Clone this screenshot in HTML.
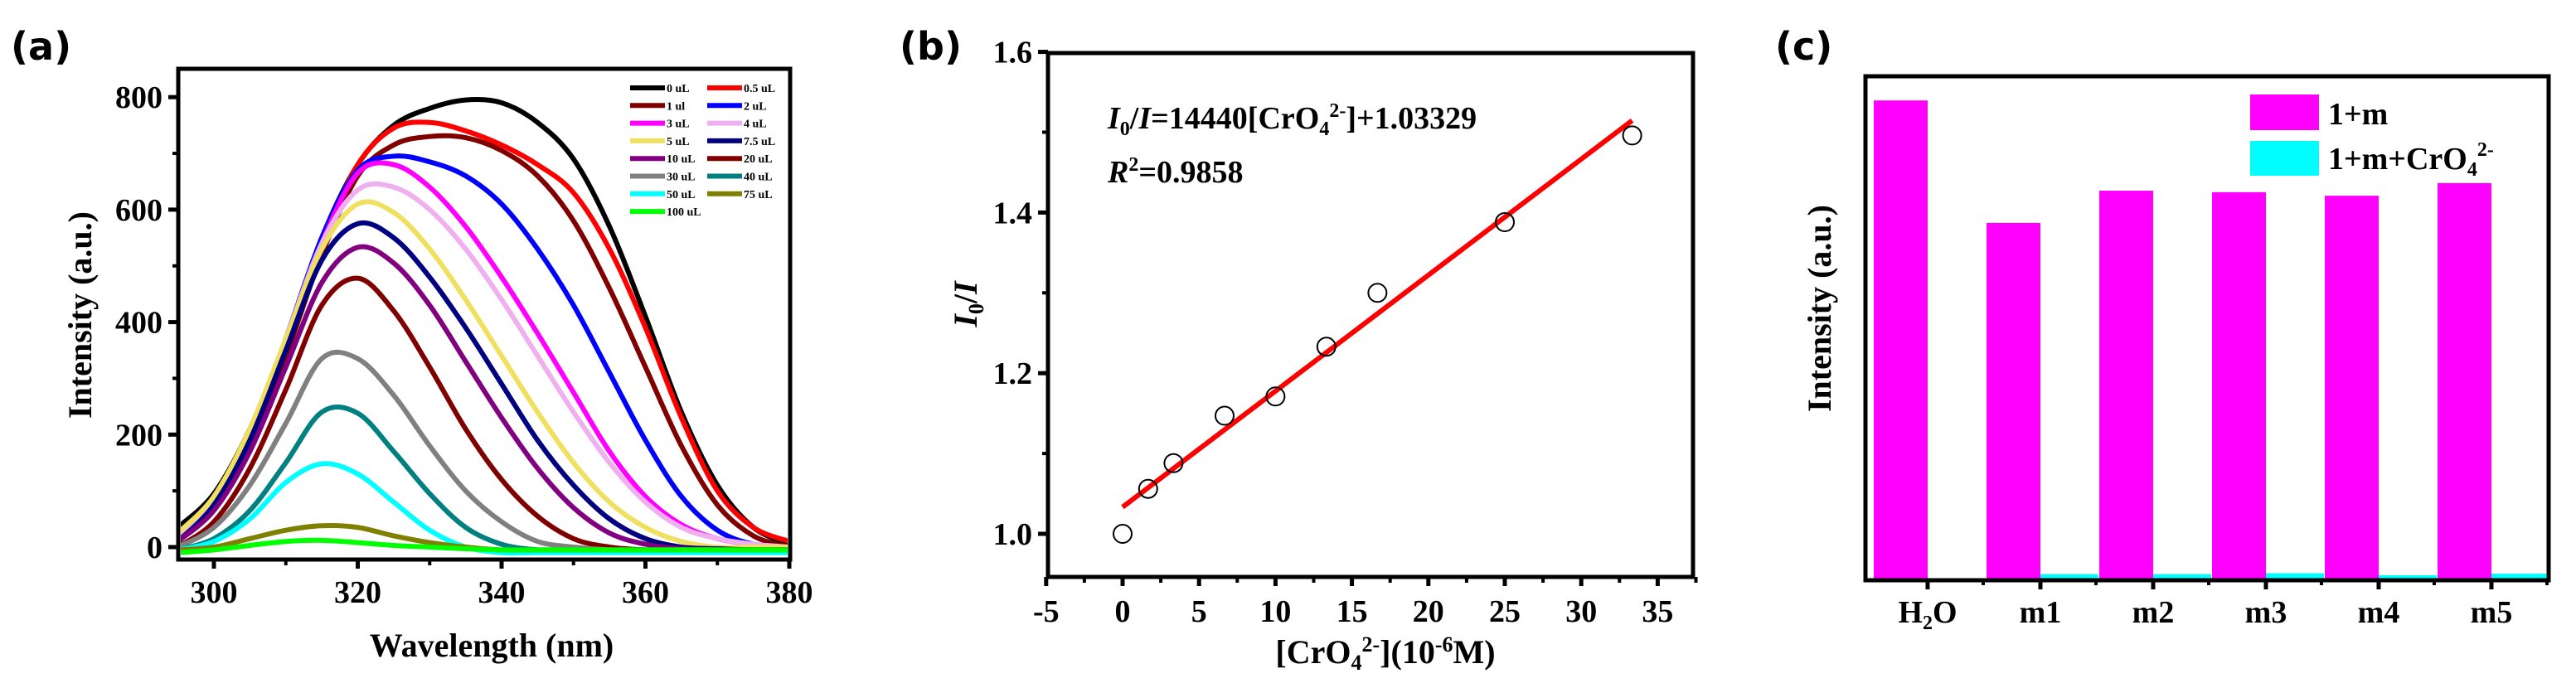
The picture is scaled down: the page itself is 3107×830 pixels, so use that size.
<!DOCTYPE html>
<html><head><meta charset="utf-8">
<style>
html,body{margin:0;padding:0;background:#fff;}
svg{display:block;}
text{font-family:"Liberation Serif",serif;font-weight:bold;fill:#000;}
.lbl{font-family:"DejaVu Sans","Liberation Sans",sans-serif;font-weight:bold;}
</style></head>
<body>
<svg id="fig" width="3107" height="830" viewBox="0 0 3107 830" xmlns="http://www.w3.org/2000/svg">
<defs><clipPath id="clipA"><rect x="218" y="86" width="732" height="586"/></clipPath></defs>
<g id="pa"></g>
<g id="pb"></g>
<g id="pc"></g>
</svg>
<script>
// ---------- Panel A data ----------
const waveA = [295,300,305,310,315,320,325,330,335,340,345,350,355,360,365,370,375,380];
const namesA = ["0 uL","0.5 uL","1 ul","2 uL","3 uL","4 uL","5 uL","7.5 uL","10 uL","20 uL","30 uL","40 uL","50 uL","75 uL","100 uL"];
const colorsA = ["#000000","#ff0000","#800000","#0000ff","#ff00ff","#f0b0f0","#f0e060","#000080","#800080","#800000","#808080","#008080","#00ffff","#808000","#00ff00"];
const s0  = [35,95,210,370,550,680,750,780,795,790,755,690,570,410,240,110,35,5];
const s1  = [20,85,200,360,540,680,745,755,740,715,680,630,530,390,230,100,35,10];
const s2  = [10,70,180,340,520,660,715,730,728,705,660,580,460,320,180,75,20,0];
const s3  = [15,80,200,370,550,670,695,685,660,610,530,430,310,190,90,30,5,0];
const s4  = [10,70,190,360,540,665,680,640,570,480,380,275,170,90,40,15,5,0];
const s5  = [15,85,205,370,540,635,640,600,530,440,340,240,150,80,35,15,5,0];
const s6  = [25,90,210,370,530,610,595,530,440,340,240,150,80,35,10,0,0,0];
const s7  = [10,75,190,350,510,575,550,480,390,290,190,110,50,15,0,-3,-5,-5];
const s8  = [10,65,170,320,470,533,505,430,330,230,140,70,25,5,-3,-5,-5,-5];
const s9  = [0,45,140,280,430,478,420,320,210,120,55,15,0,-5,-5,-5,-5,-5];
const s10 = [0,35,110,220,335,335,270,180,100,45,10,0,-5,-5,-5,-5,-5,-5];
const s11 = [-5,15,65,150,240,238,170,95,35,5,-5,-8,-8,-8,-8,-8,-8,-8];
const s12 = [-5,10,50,115,148,130,80,30,0,-10,-10,-10,-10,-10,-10,-10,-10,-10];
const s13 = [-5,0,15,30,38,35,20,8,0,-5,-5,-5,-5,-5,-5,-5,-5,-5];
const s14 = [-10,-5,3,10,12,8,3,0,-3,-5,-5,-5,-5,-5,-5,-5,-5,-5];
const seriesA = [s0,s1,s2,s3,s4,s5,s6,s7,s8,s9,s10,s11,s12,s13,s14];
const xTicksA = [300,320,340,360,380];
const yTicksA = [0,200,400,600,800];

// ---------- Panel B data ----------
const concB = [0,1.67,3.33,6.67,10,13.33,16.67,25,33.33];
const ratioB = [1.0,1.056,1.088,1.147,1.171,1.233,1.300,1.388,1.496];
const fitSlope = 0.01444, fitIntercept = 1.03329;
const xTicksB = [-5,0,5,10,15,20,25,30,35];
const yTicksB = [1.0,1.2,1.4,1.6];

// ---------- Panel C data ----------
const catsC = ["H2O","m1","m2","m3","m4","m5"];
const valsMag = [95.2,70.9,77.3,77.0,76.3,78.8];
const valsCyan = [0,1.2,1.2,1.4,1.0,1.3];

const NS="http://www.w3.org/2000/svg";
function mk(parent,tag,attrs,txt){const e=document.createElementNS(NS,tag);for(const k in attrs)e.setAttribute(k,attrs[k]);if(txt!==undefined)e.textContent=txt;parent.appendChild(e);return e;}
function smooth(pts){let d="M"+pts[0][0]+","+pts[0][1];for(let i=0;i<pts.length-1;i++){const p0=pts[Math.max(0,i-1)],p1=pts[i],p2=pts[i+1],p3=pts[Math.min(pts.length-1,i+2)];const c1x=p1[0]+(p2[0]-p0[0])/6,c1y=p1[1]+(p2[1]-p0[1])/6,c2x=p2[0]-(p3[0]-p1[0])/6,c2y=p2[1]-(p3[1]-p1[1])/6;d+=" C"+c1x+","+c1y+" "+c2x+","+c2y+" "+p2[0]+","+p2[1];}return d;}

// ===== Panel A =====
const pa=document.getElementById('pa');
const xA=v=>258+(v-300)*8.675, yA=v=>660-v*0.6785;
let t=mk(pa,'text',{x:13,y:72,'font-size':46,class:'lbl'},'(a)');


const curves=mk(pa,'g',{'clip-path':'url(#clipA)'});
seriesA.forEach((s,i)=>{
  const p=mk(curves,'path',{d:smooth(s.map((v,j)=>[xA(waveA[j]),yA(v)])),fill:'none',stroke:colorsA[i],'stroke-width':6,'stroke-linejoin':'round'});
  
  
});
let fr=mk(pa,'rect',{x:215,y:83,width:738,height:592,fill:'none',stroke:'#000','stroke-width':5});


yTicksA.forEach(v=>{
  mk(pa,'line',{x1:203,x2:215,y1:yA(v),y2:yA(v),stroke:'#000','stroke-width':5});
  const tl=mk(pa,'text',{x:196,y:yA(v)+13,'font-size':38,'text-anchor':'end'},v);
  
  
});
[100,300,500,700].forEach(v=>mk(pa,'line',{x1:208,x2:215,y1:yA(v),y2:yA(v),stroke:'#000','stroke-width':4}));
xTicksA.forEach(v=>{
  mk(pa,'line',{x1:xA(v),x2:xA(v),y1:675,y2:686,stroke:'#000','stroke-width':5});
  const tl=mk(pa,'text',{x:xA(v),y:727,'font-size':38,'text-anchor':'middle'},v);
  
  
});
[310,330,350,370].forEach(v=>mk(pa,'line',{x1:xA(v),x2:xA(v),y1:675,y2:682,stroke:'#000','stroke-width':4}));
t=mk(pa,'text',{x:593,y:792,'font-size':40,'text-anchor':'middle'},'Wavelength (nm)');


t=mk(pa,'text',{x:0,y:0,'font-size':40,'text-anchor':'middle',transform:'translate(110,380) rotate(-90)'},'Intensity (a.u.)');


namesA.forEach((n,i)=>{
  const col=i%2,row=Math.floor(i/2);
  const lx=col?853:760, ly=106+row*21.3;
  const g=mk(pa,'g',{});
  
  
  mk(g,'line',{x1:lx,x2:lx+42,y1:ly,y2:ly,stroke:colorsA[i],'stroke-width':6});
  mk(g,'text',{x:lx+44,y:ly+5,'font-size':14},n);
});

// ===== Panel B =====
const pb=document.getElementById('pb');
const xB=v=>1354+v*18.44, yB=v=>644-(v-1)*969;
t=mk(pb,'text',{x:1085,y:72,'font-size':46,class:'lbl'},'(b)');


fr=mk(pb,'rect',{x:1264,y:64,width:778,height:632,fill:'none',stroke:'#000','stroke-width':5});


yTicksB.forEach(v=>{
  mk(pb,'line',{x1:1252,x2:1264,y1:yB(v),y2:yB(v),stroke:'#000','stroke-width':5});
  const tl=mk(pb,'text',{x:1245,y:yB(v)+13,'font-size':38,'text-anchor':'end'},v.toFixed(1));
  
  
});
[1.1,1.3,1.5].forEach(v=>mk(pb,'line',{x1:1257,x2:1264,y1:yB(v),y2:yB(v),stroke:'#000','stroke-width':4}));
xTicksB.forEach(v=>{
  mk(pb,'line',{x1:xB(v),x2:xB(v),y1:696,y2:707,stroke:'#000','stroke-width':5});
  const tl=mk(pb,'text',{x:xB(v),y:750,'font-size':38,'text-anchor':'middle'},v);
  
  
});
[-2.5,2.5,7.5,12.5,17.5,22.5,27.5,32.5,37.5].forEach(v=>mk(pb,'line',{x1:xB(v),x2:xB(v),y1:696,y2:703,stroke:'#000','stroke-width':4}));
const fit=mk(pb,'line',{x1:xB(0),y1:yB(fitIntercept),x2:xB(33.33),y2:yB(fitIntercept+fitSlope*33.33),stroke:'#ff0000','stroke-width':6});


concB.forEach((c,i)=>{
  const p=mk(pb,'circle',{cx:xB(c),cy:yB(ratioB[i]),r:11,fill:'none',stroke:'#000','stroke-width':2});
  
  
});
t=mk(pb,'text',{x:1336,y:155,'font-size':38},'');
t.innerHTML='<tspan font-style="italic">I</tspan><tspan font-size="24" dy="8">0</tspan><tspan dy="-8">/</tspan><tspan font-style="italic">I</tspan>=14440[CrO<tspan font-size="24" dy="8">4</tspan><tspan font-size="24" dy="-22">2-</tspan><tspan dy="14">]+1.03329</tspan>';


t=mk(pb,'text',{x:1336,y:220,'font-size':38},'');
t.innerHTML='<tspan font-style="italic">R</tspan><tspan font-size="24" dy="-14">2</tspan><tspan dy="14">=0.9858</tspan>';


t=mk(pb,'text',{x:0,y:0,'font-size':40,'text-anchor':'middle',transform:'translate(1178,367) rotate(-90)'},'');
t.innerHTML='<tspan font-style="italic">I</tspan><tspan font-size="26" dy="8">0</tspan><tspan dy="-8">/</tspan><tspan font-style="italic">I</tspan>';


t=mk(pb,'text',{x:1671,y:800,'font-size':40,'text-anchor':'middle'},'');
t.innerHTML='[CrO<tspan font-size="26" dy="8">4</tspan><tspan font-size="26" dy="-22">2-</tspan><tspan dy="14">](10</tspan><tspan font-size="26" dy="-14">-6</tspan><tspan dy="14">M)</tspan>';



// ===== Panel C =====
const pc=document.getElementById('pc');
const yC=v=>700-v*6.08;
t=mk(pc,'text',{x:2141,y:72,'font-size':46,class:'lbl'},'(c)');


catsC.forEach((c,i)=>{
  const x0=2260+i*136;
  let b=mk(pc,'rect',{x:x0,y:yC(valsMag[i]),width:65,height:700-yC(valsMag[i]),fill:'#ff00ff'});
  
  
  b=mk(pc,'rect',{x:x0+65,y:yC(valsCyan[i]),width:70,height:700-yC(valsCyan[i]),fill:'#00ffff'});
  
  
  mk(pc,'line',{x1:x0+65,x2:x0+65,y1:700,y2:711,stroke:'#000','stroke-width':5});
  mk(pc,'line',{x1:x0+132,x2:x0+132,y1:700,y2:706,stroke:'#000','stroke-width':4});
  const tl=mk(pc,'text',{x:x0+65,y:751,'font-size':38,'text-anchor':'middle'},'');
  if(c==='H2O'){tl.innerHTML='H<tspan font-size="24" dy="8">2</tspan><tspan dy="-8">O</tspan>';}else{tl.textContent=c;}
  
  
});
fr=mk(pc,'rect',{x:2250,y:92,width:824,height:608,fill:'none',stroke:'#000','stroke-width':5});


t=mk(pc,'text',{x:0,y:0,'font-size':40,'text-anchor':'middle',transform:'translate(2208,372) rotate(-90)'},'Intensity (a.u.)');


let lg=mk(pc,'g',{});


mk(lg,'rect',{x:2714,y:114,width:83,height:43,fill:'#ff00ff'});
mk(lg,'text',{x:2808,y:150,'font-size':38},'1+m');
lg=mk(pc,'g',{});


mk(lg,'rect',{x:2714,y:170,width:83,height:42,fill:'#00ffff'});
const lt=mk(lg,'text',{x:2808,y:204,'font-size':38},'');
lt.innerHTML='1+m+CrO<tspan font-size="24" dy="8">4</tspan><tspan font-size="24" dy="-24">2-</tspan>';
</script>
</body></html>
